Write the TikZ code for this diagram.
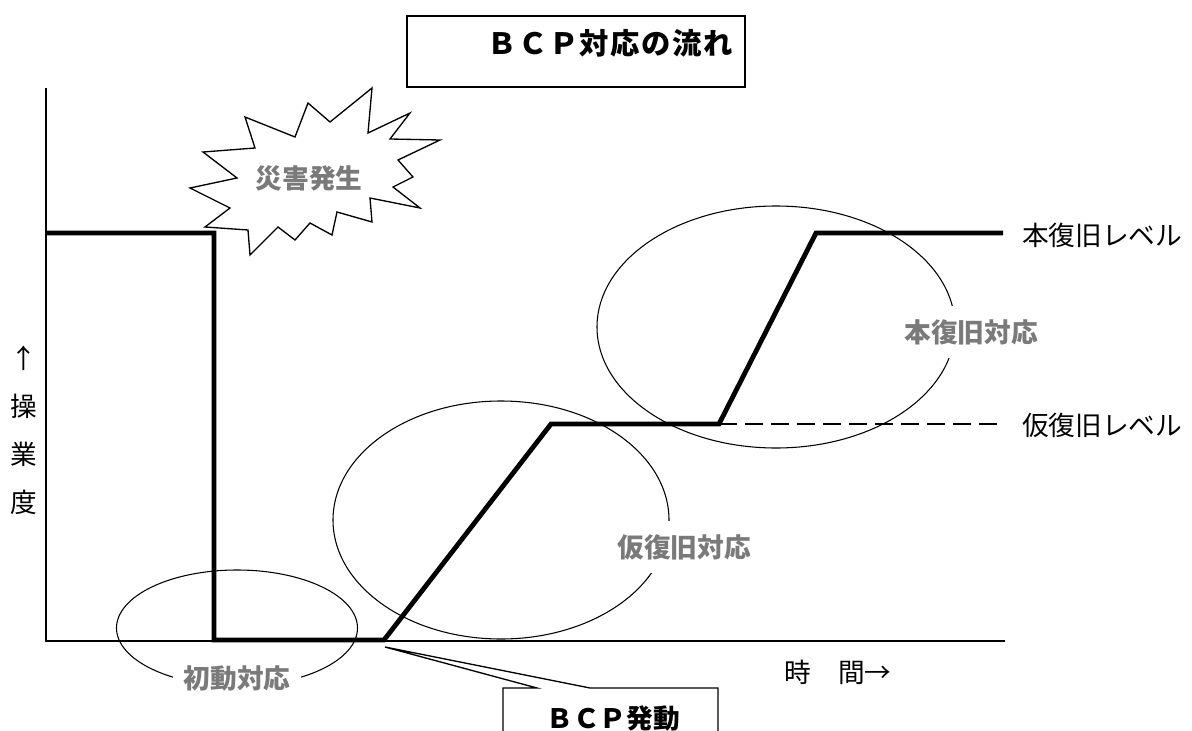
\documentclass[tikz,border=0pt]{standalone}
\usepackage{fontspec}
\usetikzlibrary{shapes.geometric}
\newfontfamily\jp{Noto Sans CJK JP}
\definecolor{lblgray}{RGB}{122,122,122}
\tikzset{
  thinline/.style={line width=0.8pt, black},
  axisline/.style={line width=1pt, black},
  levelline/.style={line width=3.6pt, black, line join=miter},
  phase/.style={draw, ellipse, line width=0.8pt, inner sep=0pt},
  lbl/.style={font=\jp\bfseries\fontsize{20}{24}\selectfont, text=lblgray, fill=white, inner xsep=8pt, inner ysep=10pt},
  rlbl/.style={font=\jp\fontsize{20}{24}\selectfont, anchor=west, inner sep=0pt},
  titlefont/.style={font=\jp\bfseries\fontsize{22}{26}\selectfont\addfontfeature{LetterSpace=5}},
}
\begin{document}
\begin{tikzpicture}[x=0.75pt,y=-0.75pt]
\useasboundingbox (0,0) rectangle (1192,731);
\fill[white] (0,0) rectangle (1192,731);

% phase ellipses
\node[phase, minimum width=180.75pt, minimum height=87pt] (e1) at (237,628) {};
\node[phase, minimum width=252pt, minimum height=178.5pt] (e2) at (501,520) {};
\node[phase, minimum width=268.5pt, minimum height=181.5pt] (e3) at (776,327) {};

% axes
\coordinate (o) at (46,641);
\coordinate (ytop) at (46,88);
\coordinate (xend) at (1005,641);
\draw[axisline] (ytop) -- (o) -- (xend);

% level line
\coordinate (p0) at (46,233);
\coordinate (p1) at (214,233);
\coordinate (p2) at (214,640);
\coordinate (p3) at (384,640);
\coordinate (p4) at (551,424);
\coordinate (p5) at (719,424);
\coordinate (p6) at (816,233);
\coordinate (p7) at (1003,233);
\coordinate (d1) at (1003,424);
\draw[levelline] (p0) -- (p1) -- (p2) -- (p3) -- (p4) -- (p5) -- (p6) -- (p7);
\draw[line width=0.8pt, dash pattern=on 13.5pt off 6pt] (p5) -- (d1);

% phase labels
\node[lbl] (l1) at (237,678) {初動対応};
\node[lbl] (l2) at (684,547) {仮復旧対応};
\node[lbl] (l3) at (971,332) {本復旧対応};

% level labels
\node[rlbl] (r1) at (1022,235) {本復旧レベル};
\node[rlbl] (r2) at (1022,425) {仮復旧レベル};

% axis labels
\node[font=\jp\fontsize{20}{36}\selectfont, align=center, inner sep=0pt] (ylab) at (24,430) {↑\\操\\業\\度};
\node[font=\jp\fontsize{20}{24}\selectfont, inner sep=0pt] (xlab) at (838,672) {時　間→};

% title
\node[draw, line width=1.1pt, minimum width=253.5pt, minimum height=53.25pt, inner sep=0pt] (tbox) at (576,51.5) {};
\node[titlefont, inner sep=0pt] (title) at (610,43) {ＢＣＰ対応の流れ};

% starburst
\draw[line width=1pt, fill=white, line join=miter]
  (372,88) -- (368,133) -- (410,113) -- (390,139) -- (440,140) -- (398,160)
  -- (413,177) -- (393,187) -- (420,208) -- (370,198) -- (372,222) -- (337,212)
  -- (332,235) -- (310,223) -- (295,240) -- (278,227) -- (250,255) -- (248,230)
  -- (205,227) -- (230,208) -- (190,188) -- (237,178) -- (203,152) -- (255,148)
  -- (245,117) -- (295,137) -- (308,103) -- (330,122) -- cycle;
\node[font=\jp\bfseries\fontsize{20}{24}\selectfont, text=lblgray, inner sep=0pt] (disaster) at (309,178) {災害発生};

% BCP callout
\coordinate (tip) at (385,647);
\draw[line width=1pt, fill=white, line join=miter]
  (503,745) -- (503,688) -- (537,688) -- (tip) -- (590,688) -- (718,688) -- (718,745);
\node[font=\jp\bfseries\fontsize{20}{24}\selectfont, inner sep=0pt] (bcp) at (613,718) {ＢＣＰ発動};
\end{tikzpicture}
\end{document}
